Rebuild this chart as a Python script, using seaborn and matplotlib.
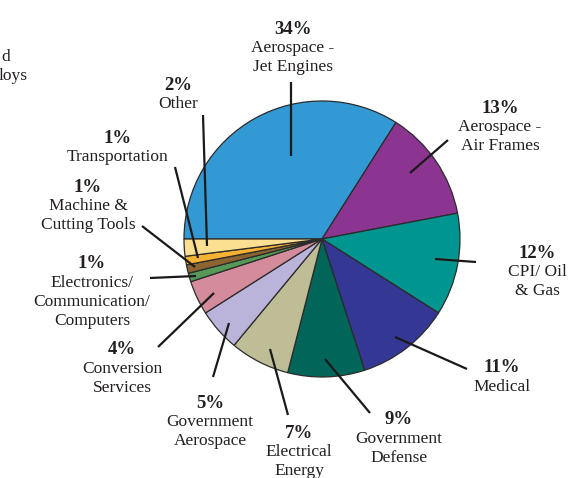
import matplotlib
matplotlib.use("Agg")
import matplotlib.pyplot as plt
import seaborn as sns

# Market share by end use, listed clockwise from the 9 o'clock position
sectors = [
    "Aerospace -\nJet Engines",
    "Aerospace -\nAir Frames",
    "CPI/ Oil\n& Gas",
    "Medical",
    "Government\nDefense",
    "Electrical\nEnergy",
    "Government\nAerospace",
    "Conversion\nServices",
    "Electronics/\nCommunication/\nComputers",
    "Machine &\nCutting Tools",
    "Transportation",
    "Other",
]
shares = [34, 13, 12, 11, 9, 7, 5, 4, 1, 1, 1, 2]
slice_colors = [
    "#3399d5", "#8b3591", "#00968f", "#343894", "#006659", "#bfbd96",
    "#bab4da", "#d48c9d", "#559858", "#8b6432", "#f6b233", "#fbe091",
]

# Label anchor (text centre, first line) and leader line from text to slice, in pixels
label_pos = [
    (293, 29), (500, 108), (537, 253), (502, 368), (399, 420), (299, 433),
    (210, 403), (122, 350), (92, 264), (88, 187), (118, 138), (178, 85),
]
leaders = [
    ((291, 82), (291, 156)),
    ((448, 140), (410, 173)),
    ((476, 262), (435, 259)),
    ((467, 369), (395, 337)),
    ((370, 413), (325, 359)),
    ((288, 415), (270, 349)),
    ((213, 377), (229, 323)),
    ((158, 347), (214, 293)),
    ((150, 278), (196, 276)),
    ((142, 226), (195, 267)),
    ((175, 167), (198, 258)),
    ((203, 115), (207, 246)),
]

W, H = 582, 478
sns.set_theme(style="white")
plt.rcParams["font.family"] = ["Liberation Serif", "DejaVu Serif"]

fig = plt.figure(figsize=(W / 100, H / 100), dpi=100)
ax = fig.add_axes([0, 0, 1, 1])
ax.set_xlim(0, W)
ax.set_ylim(0, H)
ax.axis("off")

ax.pie(
    shares,
    colors=slice_colors,
    startangle=180,
    counterclock=False,
    center=(322, H - 239),
    radius=138,
    wedgeprops=dict(edgecolor="#2b2b2b", linewidth=0.9),
    frame=True,
)
ax.set_xlim(0, W)
ax.set_ylim(0, H)
ax.set_aspect("equal")
ax.axis("off")

txt = "#231f20"
line_gap = 19
for name, pct, (x, y), (p0, p1) in zip(sectors, shares, label_pos, leaders):
    ax.text(x, H - y, f"{pct}%", ha="center", va="center",
            fontsize=13.5, fontweight="bold", color=txt)
    for i, part in enumerate(name.split("\n"), start=1):
        ax.text(x, H - (y + line_gap * i), part, ha="center", va="center",
                fontsize=12.5, color=txt)
    ax.plot([p0[0], p1[0]], [H - p0[1], H - p1[1]], color="#1a1a1a",
            linewidth=1.6, solid_capstyle="butt")

# Partial label of a neighbouring chart at the left edge
ax.text(10, H - 57, "d", ha="right", va="center", fontsize=12.5, color=txt)
ax.text(28, H - 76, "loys", ha="right", va="center", fontsize=12.5, color=txt)

fig.savefig("out.png", dpi=100, facecolor="white")
